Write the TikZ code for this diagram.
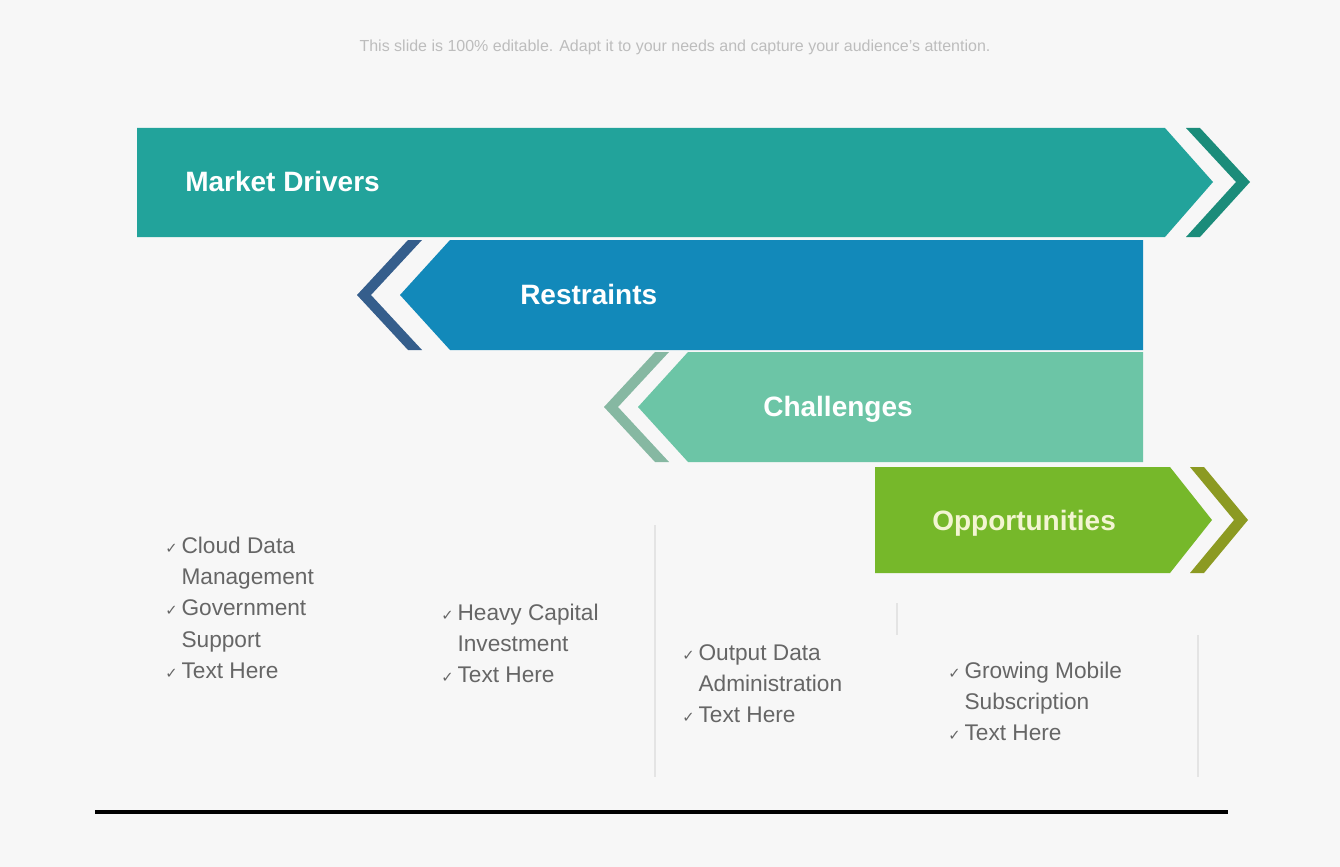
\documentclass[tikz,border=0pt]{standalone}
\usepackage{fontspec}
\setmainfont{Liberation Sans}
\newfontfamily\symfont{DejaVu Sans}
\definecolor{bg}{HTML}{F7F7F7}
\definecolor{mdteal}{HTML}{22A39B}
\definecolor{mdchev}{HTML}{1B8C7A}
\definecolor{rblue}{HTML}{1289BA}
\definecolor{rchev}{HTML}{355E8C}
\definecolor{chgreen}{HTML}{6CC5A6}
\definecolor{chchev}{HTML}{86B8A2}
\definecolor{opgreen}{HTML}{76B82A}
\definecolor{opchev}{HTML}{8C9A22}
\definecolor{optext}{HTML}{F3F5D2}
\definecolor{txtgray}{HTML}{666666}
\definecolor{subgray}{HTML}{BDBDBD}
\definecolor{sepgray}{HTML}{E4E4E4}
\newcommand{\ck}{{\symfont\fontsize{11}{12}\selectfont\color{txtgray}✓}}
\begin{document}
\begin{tikzpicture}[x=0.75pt,y=-0.75pt,
  bartext/.style={font=\bfseries\fontsize{21}{25}\selectfont, text=white, anchor=base west, inner sep=0pt},
  item/.style={font=\fontsize{17}{23.5}\selectfont, text=txtgray, anchor=base west, inner sep=0pt},
  sepline/.style={draw=sepgray, line width=2.2pt}
]
\fill[bg] (0,0) rectangle (1340,867);
\useasboundingbox (0,0) rectangle (1340,867);

% subtitle
\node[font=\fontsize{12}{14}\selectfont, text=subgray] (sub) at (675,47) {This slide is 100\% editable. Adapt it to your needs and capture your audience's attention.};

% Market Drivers
\fill[mdteal] (137,128) -- (1165,128) -- (1213,182) -- (1165,237) -- (137,237) -- cycle;
\fill[mdchev] (1186,128) -- (1236,182) -- (1186,237) -- (1200,237) -- (1250,182) -- (1200,128) -- cycle;
\node[bartext] (md) at (185,191) {Market Drivers};

% Restraints
\fill[rblue] (1143,240) -- (450,240) -- (400,295) -- (450,350) -- (1143,350) -- cycle;
\fill[rchev] (408,240) -- (357,295) -- (408,350) -- (422,350) -- (371,295) -- (422,240) -- cycle;
\node[bartext] (rs) at (520,304) {Restraints};

% Challenges
\fill[chgreen] (1143,352) -- (688,352) -- (638,407) -- (688,462) -- (1143,462) -- cycle;
\fill[chchev] (655,352) -- (604,407) -- (655,462) -- (669,462) -- (618,407) -- (669,352) -- cycle;
\node[bartext, anchor=base] (ch) at (838,416) {Challenges};

% Opportunities
\fill[opgreen] (875,467) -- (1170,467) -- (1212,520) -- (1170,573) -- (875,573) -- cycle;
\fill[opchev] (1190,467) -- (1234,520) -- (1190,573) -- (1204,573) -- (1248,520) -- (1204,467) -- cycle;
\node[bartext, text=optext] (op) at (932,530) {Opportunities};

% separators
\draw[sepline] (655,525) -- (655,777);
\draw[sepline] (897,603) -- (897,635);
\draw[sepline] (1198,635) -- (1198,777);

% bullet lists
\node[item] (c1) at (165,553) {\begin{tabular}[t]{@{}l@{\hspace{3pt}}l@{}}\ck & Cloud Data\\ & Management\\ \ck & Government\\ & Support\\ \ck & Text Here\end{tabular}};
\node[item] (c2) at (441,620) {\begin{tabular}[t]{@{}l@{\hspace{3pt}}l@{}}\ck & Heavy Capital\\ & Investment\\ \ck & Text Here\end{tabular}};
\node[item] (c3) at (682,660) {\begin{tabular}[t]{@{}l@{\hspace{3pt}}l@{}}\ck & Output Data\\ & Administration\\ \ck & Text Here\end{tabular}};
\node[item] (c4) at (948,678) {\begin{tabular}[t]{@{}l@{\hspace{3pt}}l@{}}\ck & Growing Mobile\\ & Subscription\\ \ck & Text Here\end{tabular}};

% bottom rule
\draw[black, line width=3pt] (95,812) -- (1228,812);
\end{tikzpicture}
\end{document}
